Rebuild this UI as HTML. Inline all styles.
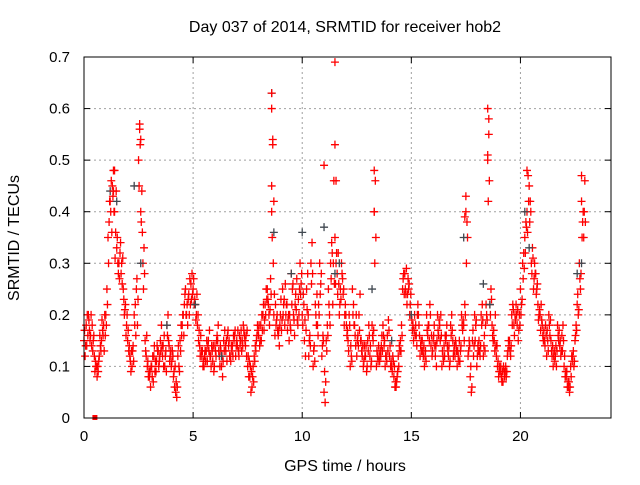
<!DOCTYPE html>
<html><head><meta charset="utf-8"><style>
body{margin:0;background:#fff;width:640px;height:480px;overflow:hidden}
svg text{font-family:"Liberation Sans",sans-serif;font-size:16px;fill:#000}
svg text.tick{font-size:15px}
</style></head><body>
<svg id="chart" width="640" height="480" viewBox="0 0 640 480" xmlns="http://www.w3.org/2000/svg">
<text x="345" y="32" text-anchor="middle">Day 037 of 2014, SRMTID for receiver hob2</text>
<text x="345" y="471" text-anchor="middle">GPS time / hours</text>
<text transform="translate(19,238) rotate(-90)" text-anchor="middle">SRMTID / TECUs</text>
<g id="grid"></g>
<g id="ticks"></g>
<g id="marks"></g>
<rect x="84" y="57" width="527" height="361" fill="none" stroke="#000" stroke-width="1"/>
</svg>
<script>
const xTicks=[0,5,10,15,20];
const yTicks=[0,0.1,0.2,0.3,0.4,0.5,0.6,0.7];
const yTickLabels=["0","0.1","0.2","0.3","0.4","0.5","0.6","0.7"];
const startHour=0, stepHour=0.1;
const seriesA=[.15,.18,.2,.16,.13,.09,.08,.12,.15,.18,
.2,.35,.42,.45,.4,.33,.3,.28,.25,.22,
.15,.12,.1,.2,.25,.5,.4,.3,.15,.1,
.08,.1,.12,.09,.13,.15,.12,.1,.18,.14,
.1,.08,.05,.12,.15,.18,.22,.2,.24,.26,
.25,.22,.18,.14,.12,.1,.13,.15,.12,.11,
.14,.16,.12,.1,.15,.13,.17,.12,.14,.16,
.15,.12,.17,.18,.14,.1,.08,.06,.12,.15,
.16,.18,.2,.22,.25,.18,.4,.2,.18,.16,
.2,.25,.18,.22,.15,.28,.2,.24,.18,.3,
.2,.15,.25,.12,.3,.1,.22,.18,.3,.12,
.05,.15,.25,.3,.22,.35,.28,.2,.3,.25,
.2,.15,.1,.25,.18,.12,.2,.15,.1,.12,
.15,.12,.18,.4,.1,.14,.12,.18,.1,.16,
.12,.1,.08,.06,.12,.15,.25,.28,.22,.26,
.2,.15,.18,.22,.12,.15,.1,.2,.18,.14,
.15,.12,.2,.18,.1,.14,.16,.12,.18,.15,
.12,.1,.15,.2,.18,.4,.12,.08,.15,.2,
.1,.15,.2,.12,.18,.5,.22,.18,.15,.12,
.08,.1,.07,.09,.12,.15,.2,.18,.22,.15,
.25,.3,.35,.4,.45,.3,.25,.28,.22,.2,
.18,.15,.12,.2,.15,.1,.12,.18,.14,.16,
.1,.08,.06,.1,.12,.15,.22,.3,.42,.35];
const seriesB=[.12,.2,.17,.14,.16,.1,.09,.14,.17,.2,
.25,.38,.46,.48,.36,.3,.32,.26,.2,.18,
.13,.09,.14,.22,.18,.56,.44,.33,.12,.08,
.06,.12,.09,.14,.11,.18,.1,.13,.2,.12,
.13,.06,.04,.1,.18,.2,.25,.18,.27,.28,
.22,.2,.15,.16,.1,.13,.11,.17,.14,.09,
.12,.18,.14,.08,.17,.11,.15,.14,.16,.12,
.17,.14,.15,.16,.12,.08,.05,.1,.14,.18,
.14,.2,.17,.25,.22,.27,.53,.16,.2,.14,
.17,.22,.2,.19,.18,.25,.16,.27,.2,.26,
.24,.12,.28,.16,.34,.14,.18,.22,.26,.16,
.03,.18,.2,.34,.46,.3,.32,.25,.27,.2,
.16,.2,.12,.22,.14,.16,.24,.12,.14,.09,
.18,.1,.15,.46,.12,.11,.16,.14,.12,.19,
.1,.12,.06,.08,.14,.18,.28,.24,.27,.22,
.17,.2,.14,.18,.15,.12,.13,.16,.22,.12,
.18,.1,.16,.2,.12,.16,.14,.1,.2,.13,
.14,.12,.13,.17,.22,.38,.15,.05,.12,.18,
.14,.12,.22,.16,.2,.58,.25,.15,.2,.1,
.1,.07,.09,.08,.15,.12,.22,.2,.18,.2,
.22,.32,.38,.47,.42,.33,.3,.25,.2,.22,
.15,.18,.15,.16,.12,.13,.1,.15,.12,.18,
.08,.06,.05,.12,.1,.18,.2,.25,.38,.46];
const seriesC=[.17,.14,.19,.2,.15,.11,.1,.16,.19,.13,
.18,.3,.4,.43,.31,.35,.27,.3,.23,.16,
.17,.11,.13,.18,.27,.45,.38,.25,.13,.11,
.09,.08,.14,.11,.1,.13,.14,.12,.16,.11,
.11,.09,.07,.14,.13,.2,.24,.22,.2,.23,
.27,.19,.2,.12,.13,.12,.15,.13,.1,.14,
.13,.15,.1,.12,.13,.15,.14,.11,.12,.17,
.14,.16,.13,.17,.16,.12,.1,.08,.11,.16,
.18,.15,.22,.2,.23,.21,.35,.24,.19,.17,
.23,.2,.26,.17,.2,.22,.19,.21,.23,.24,
.18,.19,.21,.15,.26,.13,.2,.16,.24,.14,
.09,.13,.22,.27,.3,.26,.24,.22,.28,.18,
.18,.13,.14,.2,.16,.15,.17,.13,.11,.14,
.13,.14,.16,.3,.13,.12,.14,.16,.12,.13,
.14,.09,.1,.07,.1,.13,.27,.25,.24,.2,
.19,.17,.16,.2,.14,.13,.12,.17,.15,.16,
.16,.14,.17,.15,.13,.12,.18,.14,.16,.12,
.15,.13,.11,.18,.15,.3,.13,.1,.17,.15,
.12,.13,.18,.14,.22,.42,.2,.16,.13,.14,
.09,.08,.1,.1,.13,.13,.18,.16,.2,.17,
.2,.27,.32,.36,.38,.28,.27,.24,.19,.17,
.16,.14,.17,.18,.13,.12,.14,.16,.15,.13,
.12,.09,.07,.08,.13,.16,.24,.27,.35,.4];
const seriesD=[.14,.16,.15,.18,.12,.1,.11,.13,.16,.16,
.22,.42,.36,.4,.44,.28,.34,.31,.21,.2,
.14,.13,.11,.16,.23,.53,.36,.28,.16,.09,
.1,.07,.11,.13,.12,.14,.16,.09,.15,.13,
.12,.1,.06,.09,.16,.16,.2,.23,.22,.24,
.23,.24,.17,.13,.11,.11,.14,.12,.13,.1,
.15,.13,.13,.11,.14,.16,.12,.13,.15,.14,
.13,.15,.14,.15,.17,.11,.09,.07,.13,.17,
.15,.17,.19,.23,.2,.24,.3,.22,.17,.18,
.19,.23,.22,.2,.17,.26,.22,.19,.25,.28,
.22,.17,.2,.14,.28,.11,.24,.2,.28,.15,
.07,.16,.18,.32,.26,.32,.26,.23,.24,.22,
.17,.18,.11,.18,.2,.14,.15,.14,.12,.1,
.16,.11,.17,.35,.11,.13,.13,.15,.11,.17,
.11,.11,.07,.09,.13,.16,.24,.29,.25,.24,
.18,.16,.2,.16,.13,.14,.11,.18,.2,.13,
.14,.15,.19,.16,.11,.15,.13,.11,.17,.14,
.13,.11,.14,.19,.2,.35,.14,.06,.14,.19,
.13,.14,.19,.13,.19,.46,.23,.17,.14,.11,
.09,.09,.08,.09,.14,.14,.21,.19,.21,.18,
.23,.29,.37,.42,.4,.31,.28,.26,.21,.19,
.17,.16,.13,.19,.14,.11,.13,.17,.13,.15,
.09,.07,.06,.11,.11,.17,.21,.28,.4,.38];
const spikeTimes=[8.6,8.6,8.65,8.6,8.7,11.5,11.5,11.55,11.0,2.55,2.6,13.3,18.5,18.55,18.5,20.3,22.8,1.4,1.35,13.3,17.5,17.45];
const spikeValues=[.63,.6,.54,.45,.42,.69,.53,.46,.49,.57,.54,.48,.6,.55,.51,.48,.47,.48,.44,.4,.43,.39];
const grayTimes=[1.2,1.5,2.3,2.6,5.1,8.6,8.7,9.5,10.0,11.0,11.5,11.7,13.2,15.0,17.4,18.3,18.6,20.2,20.4,22.6,22.8,3.8,6.3,14.1];
const grayValues=[.44,.42,.45,.3,.22,.63,.36,.28,.36,.37,.28,.3,.25,.2,.35,.26,.22,.4,.33,.28,.3,.18,.12,.15];
const nulTimes=[0.5];
const nulValues=[0];

const X0=84,X1=611,XMAX=24.15,Y0=418,Y1=57,YMAX=0.7;
function xs(t){return X0+(X1-X0)*t/XMAX;}
function ys(v){return Y0-(Y0-Y1)*v/YMAX;}
const NS="http://www.w3.org/2000/svg";
const grid=document.getElementById('grid'),ticks=document.getElementById('ticks'),marks=document.getElementById('marks');
function mk(tag,attrs,parent){const e=document.createElementNS(NS,tag);for(const k in attrs)e.setAttribute(k,attrs[k]);parent.appendChild(e);return e;}
xTicks.forEach(t=>{
 const x=xs(t);
 if(t>0){const g=mk('line',{x1:x,x2:x,y1:Y1,y2:Y0,stroke:'#a0a0a0','stroke-dasharray':'2,3'},grid);
 
 }
 mk('line',{x1:x,x2:x,y1:Y0,y2:Y0-6,stroke:'#000'},ticks);
 mk('line',{x1:x,x2:x,y1:Y1,y2:Y1+6,stroke:'#000'},ticks);
 const l=mk('text',{x:x,y:Y0+23,'text-anchor':'middle','class':'tick'},ticks);l.textContent=t;
 
 
});
yTicks.forEach((v,i)=>{
 const y=ys(v);
 if(v>0&&v<0.7){const g=mk('line',{x1:X0,x2:X1,y1:y,y2:y,stroke:'#a0a0a0','stroke-dasharray':'2,3'},grid);
 
 }
 mk('line',{x1:X0,x2:X0+6,y1:y,y2:y,stroke:'#000'},ticks);
 mk('line',{x1:X1,x2:X1-6,y1:y,y2:y,stroke:'#000'},ticks);
 const l=mk('text',{x:X0-14,y:y+5,'text-anchor':'end','class':'tick'},ticks);l.textContent=yTickLabels[i];
 
 
});
function plus(t,v,color,name){
 const x=xs(t),y=ys(v);
 const p=mk('path',{d:`M${x-4},${y}H${x+4}M${x},${y-4}V${y+4}`,stroke:color,'stroke-width':1.3,fill:'none'},marks);
 
 
}
seriesA.forEach((v,i)=>plus(startHour+i*stepHour,v,'#ff0000','point-a'));
seriesB.forEach((v,i)=>plus(startHour+i*stepHour+0.05,v,'#ff0000','point-b'));
seriesC.forEach((v,i)=>plus(startHour+i*stepHour+0.025,v,'#ff0000','point-c'));
seriesD.forEach((v,i)=>plus(startHour+i*stepHour+0.075,v,'#ff0000','point-d'));
grayTimes.forEach((t,i)=>plus(t,grayValues[i],'#404850','point-gray'));
spikeTimes.forEach((t,i)=>plus(t,spikeValues[i],'#ff0000','point-spike'));
nulTimes.forEach((t,i)=>{const r=mk('rect',{x:xs(t)-2.5,y:ys(nulValues[i])-3,width:5,height:5,fill:'#ff0000'},marks);
 
 });
</script>
</body></html>
